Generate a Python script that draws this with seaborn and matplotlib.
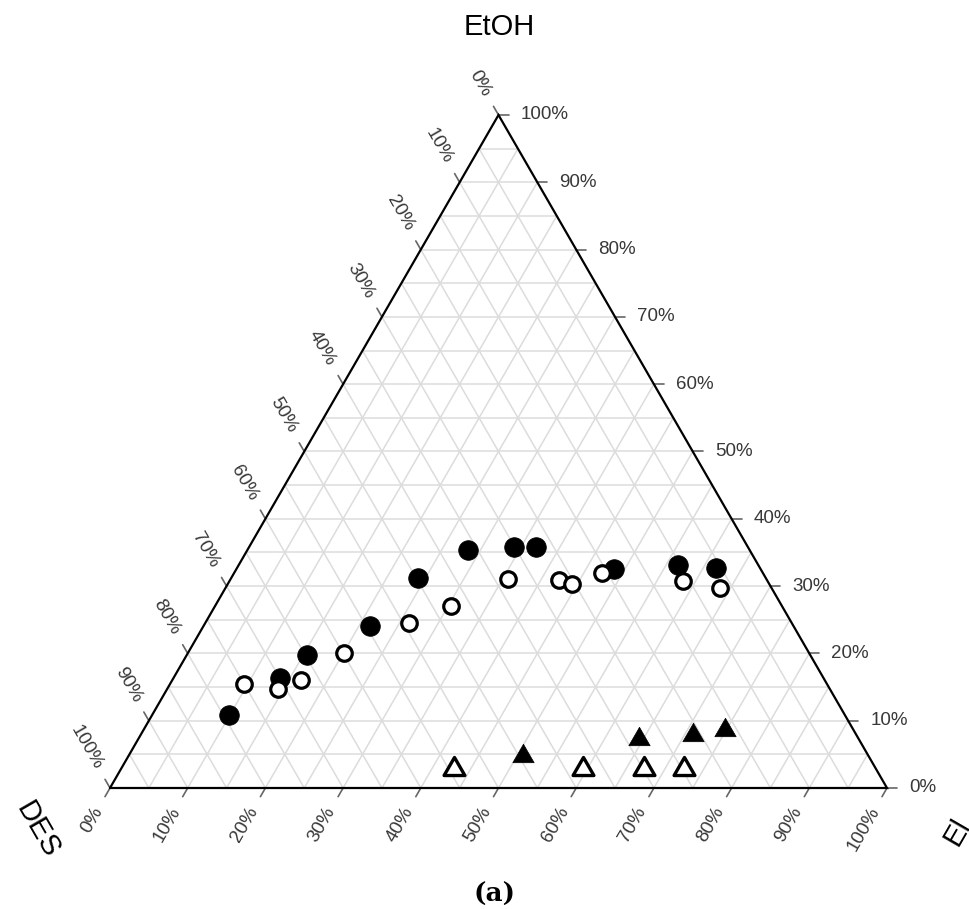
import numpy as np
import pandas as pd
import matplotlib
matplotlib.use("Agg")
import matplotlib.pyplot as plt
from matplotlib.path import Path
import seaborn as sns

# ---- compositions (percent) : DES / El / EtOH -------------------------------
des_circle_filled  = [79.2, 69.9, 64.7, 54.5, 44.7, 36.3, 30.1, 27.3, 18.9, 10.3, 5.6]
el_circle_filled   = [9.9, 13.7, 15.5, 21.4, 24.1, 28.4, 34.1, 36.9, 48.6, 56.6, 61.7]
etoh_circle_filled = [10.9, 16.4, 19.8, 24.1, 31.2, 35.3, 35.8, 35.8, 32.5, 33.1, 32.7]

des_circle_open  = [75.1, 71.0, 67.4, 59.9, 49.3, 42.5, 33.3, 26.7, 25.4, 20.7, 10.8, 6.7]
el_circle_open   = [9.5, 14.3, 16.6, 20.1, 26.2, 30.4, 35.7, 42.4, 44.3, 47.3, 58.4, 63.6]
etoh_circle_open = [15.4, 14.7, 16.0, 20.0, 24.5, 27.1, 31.0, 30.9, 30.3, 32.0, 30.8, 29.7]

des_tri_filled  = [44.3, 28.1, 20.8, 16.3]
el_tri_filled   = [50.5, 64.2, 70.9, 74.6]
etoh_tri_filled = [5.2, 7.7, 8.3, 9.1]

des_tri_open  = [54.1, 37.5, 29.6, 24.5]
el_tri_open   = [42.7, 59.2, 67.1, 72.2]
etoh_tri_open = [3.2, 3.3, 3.3, 3.3]

tick_values = [0, 10, 20, 30, 40, 50, 60, 70, 80, 90, 100]
tick_labels = [f"{v}%" for v in tick_values]
grid_values = list(range(5, 100, 5))

H = np.sqrt(3) / 2
W_PX, H_PX = 970, 909
PX = 1 / 777.0  # one pixel in data units


def to_xy(des, el, etoh):
    des, el, etoh = (np.asarray(v, float) for v in (des, el, etoh))
    tot = des + el + etoh
    b, c = el / tot, etoh / tot
    return b + c / 2, c * H


def frame(des, el, etoh, name):
    x, y = to_xy(des, el, etoh)
    return pd.DataFrame({"x": x, "y": y, "series": name})


sns.set_style("white")
plt.rcParams["font.family"] = ["Liberation Sans", "DejaVu Sans"]

fig = plt.figure(figsize=(W_PX / 100, H_PX / 100), dpi=100)
ax = fig.add_axes([110 / W_PX, 121 / H_PX, 777 / W_PX, 673 / H_PX])
ax.set_xlim(0, 1)
ax.set_ylim(0, H)
ax.axis("off")

# ---- ternary grid -------------------------------------------------------------
grid_kw = dict(color="#dcdcdc", lw=1.1, zorder=1, solid_capstyle="butt")
for g in grid_values:
    f = g / 100
    ax.plot([f / 2, 1 - f / 2], [f * H, f * H], **grid_kw)          # EtOH
    ax.plot([f, f + (1 - f) / 2], [0, (1 - f) * H], **grid_kw)      # El
    ax.plot([1 - f, (1 - f) / 2], [0, (1 - f) * H], **grid_kw)      # DES

ax.plot([0, 1, 0.5, 0], [0, 0, H, 0], color="black", lw=1.6, zorder=3,
        solid_joinstyle="miter", clip_on=False)

# ---- ticks and tick labels ----------------------------------------------------
tick_kw = dict(color="#666666", lw=1.2, zorder=2, clip_on=False)
lab_kw = dict(fontsize=13.5, color="#383838")
tick_len = 10 * PX
gap = 23 * PX
down_left = np.array([-0.5, -H])
up_left = np.array([-0.5, H])
for v, lab in zip(tick_values, tick_labels):
    f = v / 100
    # bottom axis (El)
    p = np.array([f, 0.0])
    q = p + down_left * tick_len
    ax.plot([p[0], q[0]], [p[1], q[1]], **tick_kw)
    t = p + down_left * gap
    ax.text(t[0], t[1], lab, rotation=60, rotation_mode="anchor",
            ha="right", va="center", **lab_kw)
    # left axis (DES)
    p = np.array([(1 - f) / 2, (1 - f) * H])
    q = p + up_left * tick_len
    ax.plot([p[0], q[0]], [p[1], q[1]], **tick_kw)
    t = p + up_left * gap
    ax.text(t[0], t[1], lab, rotation=-60, rotation_mode="anchor",
            ha="right", va="center", **lab_kw)
    # right axis (EtOH)
    p = np.array([1 - f / 2, f * H])
    ax.plot([p[0], p[0] + tick_len], [p[1], p[1]], **tick_kw)
    ax.text(p[0] + 22 * PX, p[1], lab, ha="left", va="center", **lab_kw)

# ---- data ---------------------------------------------------------------------
tri = Path([(-1, -0.866), (1, -0.866), (0, 0.866), (-1, -0.866)], closed=True)

df_cf = frame(des_circle_filled, el_circle_filled, etoh_circle_filled, "circle filled")
df_co = frame(des_circle_open, el_circle_open, etoh_circle_open, "circle open")
df_tf = frame(des_tri_filled, el_tri_filled, etoh_tri_filled, "triangle filled")
df_to = frame(des_tri_open, el_tri_open, etoh_tri_open, "triangle open")

sns.scatterplot(data=df_cf, x="x", y="y", ax=ax, marker="o", s=200,
                color="black", edgecolor="black", linewidth=0.5, zorder=5, legend=False)
sns.scatterplot(data=df_co, x="x", y="y", ax=ax, marker="o", s=125,
                color="white", edgecolor="black", linewidth=2.3, zorder=6, legend=False)
sns.scatterplot(data=df_tf, x="x", y="y", ax=ax, marker=tri, s=235,
                color="black", edgecolor="black", linewidth=0.5, zorder=5, legend=False)
sns.scatterplot(data=df_to, x="x", y="y", ax=ax, marker=tri, s=225,
                color="white", edgecolor="black", linewidth=2.4, zorder=6, legend=False)
for coll in ax.collections:
    coll.set_clip_on(False)
ax.set_xlim(0, 1)
ax.set_ylim(0, H)

# ---- axis titles --------------------------------------------------------------
fig.text(499 / W_PX, 1 - 27 / H_PX, "EtOH", fontsize=21, color="black",
         ha="center", va="center")
fig.text(38 / W_PX, 1 - 830 / H_PX, "DES", fontsize=21, color="black", rotation=-60,
         ha="center", va="center", rotation_mode="anchor")
fig.text(951 / W_PX, 1 - 843 / H_PX, "El", fontsize=21, color="black", rotation=60,
         ha="left", va="center", rotation_mode="anchor")
fig.text(495 / W_PX, 1 - 894 / H_PX, "(a)", fontsize=19, fontweight="bold",
         color="black", family=["DejaVu Serif"], ha="center", va="center")

fig.savefig("out.png", dpi=100, facecolor="white")
